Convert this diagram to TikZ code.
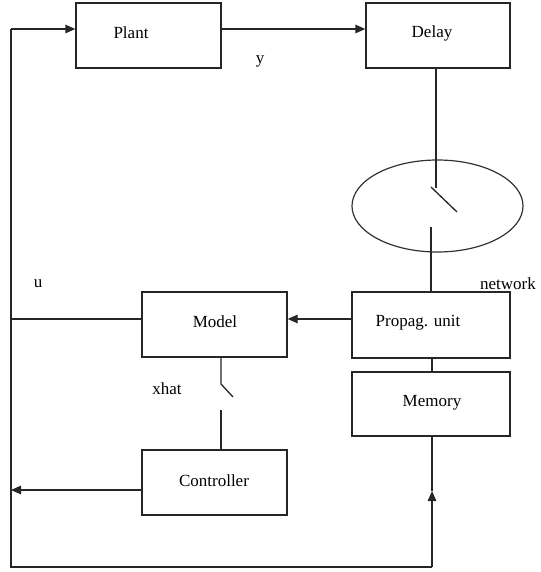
\documentclass[tikz,border=0pt]{standalone}
\usepackage{fontspec}
\setmainfont{Liberation Serif}
\usetikzlibrary{arrows.meta,shapes.geometric}
\begin{document}
\begin{tikzpicture}[x=1pt,y=-1pt,
  box/.style={draw=black!85,line width=1.3pt,minimum width=#1,inner sep=0pt},
  box/.default=145pt,
  txt/.style={font=\fontsize{17}{19}\selectfont,inner sep=0pt},
  wire/.style={draw=black!85,line width=1.3pt},
  arr/.style={wire,-{Triangle[length=10pt,width=8.5pt]}}]
\useasboundingbox[fill=white] (0,0) rectangle (540,572);
% boxes
\node[box=145pt,minimum height=65pt] (plant) at (148.5,35.5) {};
\node[box=144pt,minimum height=65pt] (delay) at (438,35.5) {};
\node[box=158pt,minimum height=66pt] (propag) at (431,325) {};
\node[box=158pt,minimum height=64pt] (memory) at (431,404) {};
\node[box=145pt,minimum height=65pt] (model) at (214.5,324.5) {};
\node[box=145pt,minimum height=65pt] (controller) at (214.5,482.5) {};
\node[draw=black!80,line width=1.2pt,ellipse,minimum width=171pt,minimum height=92pt,inner sep=0pt] (net) at (437.5,206) {};
% texts
\node[txt] (tplant) at (131,33) {Plant};
\node[txt] (tdelay) at (432,33) {Delay};
\node[txt] (tpropag) at (418,323) {Propag. unit};
\node[txt] (tmemory) at (432,403) {Memory};
\node[txt] (tmodel) at (215,322) {Model};
\node[txt] (tcontroller) at (214,481) {Controller};
\node[txt] (ly) at (260,61) {y};
\node[txt] (lu) at (38,284) {u};
\node[txt] (lxhat) at (167,389) {xhat};
\node[txt] (lnet) at (508,284) {network};
% coordinates
\coordinate (tl) at (11,29);
\coordinate (ml) at (11,319);
\coordinate (cl) at (11,490);
\coordinate (bl) at (11,567);
\coordinate (br) at (432,567);
\coordinate (mid) at (432,491);
\coordinate (s1a) at (436,188);
\coordinate (s1b) at (431,187);
\coordinate (s1c) at (457,212);
\coordinate (s1d) at (431,227);
\coordinate (s2a) at (221,384);
\coordinate (s2b) at (233,397);
\coordinate (s2c) at (221,410);
% connectors
\draw[arr] (tl) -- (plant.west |- tl);
\draw[wire] (tl) -- (bl) -- (br);
\draw[arr] (br) -- (mid);
\draw[wire] (mid) -- (memory.south -| mid);
\draw[arr] (plant.east |- tl) -- (delay.west |- tl);
\draw[wire] (delay.south -| s1a) -- (s1a);
\draw[wire] (s1b) -- (s1c);
\draw[wire] (s1d) -- (propag.north -| s1d);
\draw[wire] (propag.south -| mid) -- (memory.north -| mid);
\draw[arr] (propag.west |- ml) -- (model.east |- ml);
\draw[wire] (model.west |- ml) -- (ml);
\draw[arr] (controller.west |- cl) -- (cl);
\draw[wire] (model.south -| s2a) -- (s2a) -- (s2b);
\draw[wire] (s2c) -- (controller.north -| s2c);
\end{tikzpicture}
\end{document}
